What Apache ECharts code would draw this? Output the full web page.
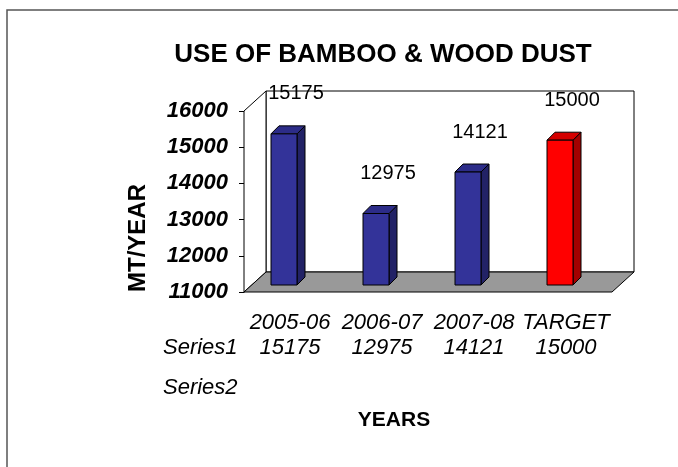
<!DOCTYPE html>
<html>
<head>
<meta charset="utf-8">
<script src="https://cdn.jsdelivr.net/npm/echarts@6/dist/echarts.min.js"></script>
<style>
  html, body { margin: 0; padding: 0; background: #fff; }
  #chart { width: 678px; height: 467px; }
</style>
</head>
<body>
<div id="chart"></div>
<script>
var categories = ['2005-06', '2006-07', '2007-08', 'TARGET'];
var series1 = [15175, 12975, 14121, 15000];
var barColors = ['blue', 'blue', 'blue', 'red'];
var yMin = 11000, yMax = 16000, yStep = 1000;

var FONT = 'Arial, "Liberation Sans", sans-serif';
var palette = {
  blue: { front: '#333399', top: '#2c2c88', side: '#222266' },
  red:  { front: '#ff0000', top: '#d40000', side: '#a30000' }
};
// depth of the back wall and of the bars (oblique projection)
var WALL_DX = 22, WALL_DY = -20;
var BAR_SHIFT_X = -6, BAR_SHIFT_Y = -7;
var BAR_W = 26, BAR_DX = 8, BAR_DY = -8;

var chart = echarts.init(document.getElementById('chart'));

function renderWalls(params, api) {
  var cs = params.coordSys;
  var x0 = cs.x, x1 = cs.x + cs.width, yt = cs.y, yb = cs.y + cs.height;
  var line = { stroke: '#000', lineWidth: 1 };
  return {
    type: 'group',
    children: [
      { type: 'rect', shape: { x: x0 + WALL_DX, y: yt + WALL_DY, width: cs.width, height: cs.height },
        style: Object.assign({ fill: '#fff' }, line) },
      { type: 'polygon', shape: { points: [[x0, yt], [x0 + WALL_DX, yt + WALL_DY], [x0 + WALL_DX, yb + WALL_DY], [x0, yb]] },
        style: Object.assign({ fill: '#fff' }, line) },
      { type: 'polygon', shape: { points: [[x0, yb], [x1, yb], [x1 + WALL_DX, yb + WALL_DY], [x0 + WALL_DX, yb + WALL_DY]] },
        style: Object.assign({ fill: '#999999' }, line) }
    ]
  };
}

function renderBar(params, api) {
  var i = api.value(0), v = api.value(1);
  var base = api.coord([i, yMin]);
  var top = api.coord([i, v]);
  var c = palette[barColors[params.dataIndex]];
  var xl = base[0] + BAR_SHIFT_X - BAR_W / 2, xr = xl + BAR_W;
  var yb = base[1] + BAR_SHIFT_Y, yt = top[1] + BAR_SHIFT_Y;
  var line = { stroke: '#000', lineWidth: 1 };
  return {
    type: 'group',
    children: [
      { type: 'polygon', shape: { points: [[xr, yb], [xr, yt], [xr + BAR_DX, yt + BAR_DY], [xr + BAR_DX, yb + BAR_DY]] },
        style: Object.assign({ fill: c.side }, line) },
      { type: 'polygon', shape: { points: [[xl, yt], [xr, yt], [xr + BAR_DX, yt + BAR_DY], [xl + BAR_DX, yt + BAR_DY]] },
        style: Object.assign({ fill: c.top }, line) },
      { type: 'rect', shape: { x: xl, y: yt, width: BAR_W, height: yb - yt },
        style: Object.assign({ fill: c.front }, line) },
      { type: 'text', x: (xl + xr) / 2 + 12, y: yt - 40,
        style: { text: String(v), fill: '#000', font: '20px ' + FONT, align: 'center', verticalAlign: 'middle' } }
    ]
  };
}

var rowLabel = { margin: 20, interval: 0, hideOverlap: false, color: '#000',
  fontFamily: FONT, fontSize: 22, fontStyle: 'italic' };

chart.setOption({
  animation: false,
  backgroundColor: '#fff',
  title: {
    text: 'USE OF BAMBOO & WOOD DUST',
    left: 378, top: 37, textAlign: 'center',
    textStyle: { fontFamily: FONT, fontSize: 26, fontWeight: 'bold', color: '#000' }
  },
  graphic: [
    { type: 'rect', shape: { x: 7, y: 10, width: 720, height: 520 }, z: -10,
      style: { fill: 'none', stroke: '#555', lineWidth: 1.5 } },
    { type: 'text', x: 138, y: 238, rotation: Math.PI / 2,
      style: { text: 'MT/YEAR', font: 'bold 24px ' + FONT, fill: '#000', align: 'center', verticalAlign: 'middle' } },
    { type: 'text', x: 163, y: 348,
      style: { text: 'Series1', font: 'italic 22px ' + FONT, fill: '#000', align: 'left', verticalAlign: 'middle' } },
    { type: 'text', x: 163, y: 388,
      style: { text: 'Series2', font: 'italic 22px ' + FONT, fill: '#000', align: 'left', verticalAlign: 'middle' } },
    { type: 'text', x: 394, y: 420,
      style: { text: 'YEARS', font: 'bold 21px ' + FONT, fill: '#000', align: 'center', verticalAlign: 'middle' } }
  ],
  grid: { left: 244, top: 111, width: 368, height: 181 },
  xAxis: [
    {
      type: 'category', data: categories, position: 'bottom',
      axisLine: { show: false }, axisTick: { show: false },
      axisLabel: rowLabel
    },
    {
      type: 'category', data: series1.map(String), position: 'bottom', offset: 25,
      axisLine: { show: false }, axisTick: { show: false },
      axisLabel: rowLabel
    }
  ],
  yAxis: {
    type: 'value', min: yMin, max: yMax, interval: yStep,
    axisLine: { show: true, lineStyle: { color: '#000', width: 1 } },
    axisTick: { show: true, length: 5, lineStyle: { color: '#000' } },
    splitLine: { show: false },
    axisLabel: { margin: 16, color: '#000', fontFamily: FONT, fontSize: 22, fontStyle: 'italic', fontWeight: 'bold',
      formatter: function (v) { return String(v); } }
  },
  series: [
    { type: 'custom', name: 'walls', renderItem: renderWalls, data: [[0, yMin]], z: 1, silent: true },
    { type: 'custom', name: 'Series1', renderItem: renderBar, z: 5,
      data: series1.map(function (v, i) { return [i, v]; }) }
  ]
});
</script>
</body>
</html>
